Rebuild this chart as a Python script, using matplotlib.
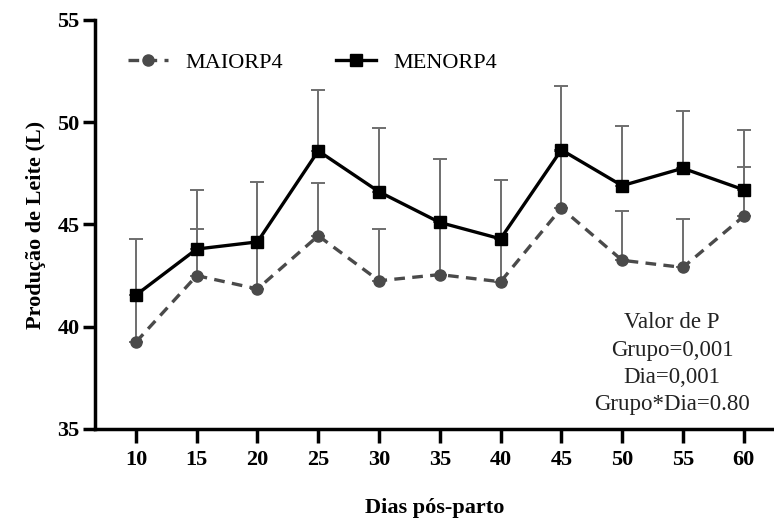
import numpy as np
import matplotlib
matplotlib.use("Agg")
import matplotlib.pyplot as plt

# dias pós-parto
dias = [10, 15, 20, 25, 30, 35, 40, 45, 50, 55, 60]

# médias de produção (L)
maiorp4 = [39.25, 42.5, 41.85, 44.45, 42.25, 42.55, 42.2, 45.8, 43.25, 42.9, 45.4]
menorp4 = [41.55, 43.8, 44.15, 48.6, 46.6, 45.1, 44.3, 48.65, 46.9, 47.75, 46.7]

# desvio (apenas barra superior)
maiorp4_err = [2.3, 2.3, 2.25, 2.6, 2.55, 2.55, 2.1, 2.8, 2.4, 2.35, 2.4]
menorp4_err = [2.75, 2.9, 2.95, 3.0, 3.1, 3.1, 2.9, 3.1, 2.9, 2.8, 2.9]

plt.rcParams["font.family"] = ["Liberation Serif", "DejaVu Serif"]

fig = plt.figure(figsize=(7.74, 5.19), dpi=100)
ax = fig.add_axes([95 / 774, 1 - 429 / 519, 679 / 774, 409 / 519])

err_kw = dict(ecolor="#6e6e6e", elinewidth=1.4, capsize=5, capthick=1.4)

ax.errorbar(dias, maiorp4, yerr=[np.zeros(len(dias)), maiorp4_err],
            fmt="o", ms=0, color="#444444", zorder=2, **err_kw)
ax.errorbar(dias, menorp4, yerr=[np.zeros(len(dias)), menorp4_err],
            fmt="s", ms=0, color="black", zorder=2, **err_kw)

ax.plot(dias, maiorp4, ls=(0, (3.2, 2.2)), lw=2.4, color="#4a4a4a",
        marker="o", ms=8, mfc="#4a4a4a", mec="#4a4a4a", label="MAIORP4", zorder=3)
ax.plot(dias, menorp4, ls="-", lw=2.4, color="black",
        marker="s", ms=8, mfc="black", mec="black", label="MENORP4", zorder=4)

ax.set_xlim(6.63, 62.5)
ax.set_ylim(35, 55)
ax.set_xticks(dias)
ax.set_yticks([35, 40, 45, 50, 55])

for side in ("top", "right"):
    ax.spines[side].set_visible(False)
for side in ("left", "bottom"):
    ax.spines[side].set_linewidth(2.5)

ax.tick_params(axis="y", length=9, width=2.5, labelsize=16, pad=2)
ax.tick_params(axis="x", length=10, width=2.5, labelsize=16, pad=5)
for lab in ax.get_xticklabels() + ax.get_yticklabels():
    lab.set_fontweight("bold")

ax.set_ylabel("Produção de Leite (L)", fontsize=16, fontweight="bold", labelpad=8)
ax.set_xlabel("Dias pós-parto", fontsize=16, fontweight="bold", labelpad=20)

ax.legend(loc="center left", bbox_to_anchor=(0.0486, 0.895), ncol=2, frameon=False,
          fontsize=16, handlelength=1.8, handletextpad=0.8, columnspacing=2.35,
          borderpad=0, borderaxespad=0)

ax.text(0.85, 0.16, "Valor de P\nGrupo=0,001\nDia=0,001\nGrupo*Dia=0.80",
        transform=ax.transAxes, ha="center", va="center", fontsize=16.5,
        linespacing=1.38, color="#222222")

fig.savefig("out.png", dpi=100)
